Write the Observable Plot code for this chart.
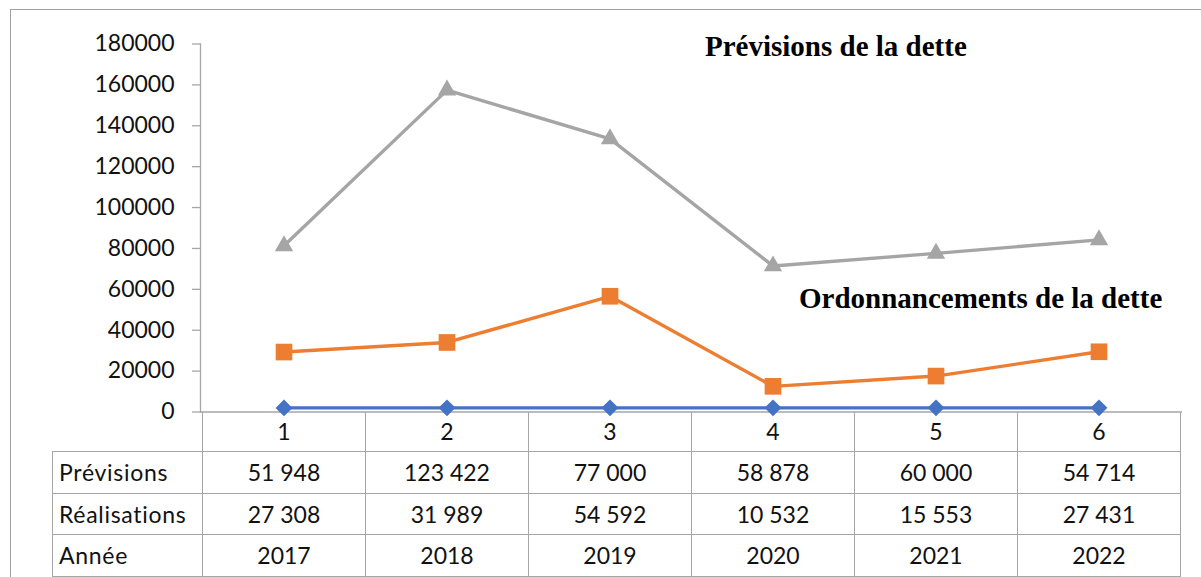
<!DOCTYPE html>
<html><head><meta charset="utf-8">
<script src="https://cdn.jsdelivr.net/npm/d3@7"></script>
<script src="https://cdn.jsdelivr.net/npm/@observablehq/plot@0.6"></script>
<style>
html,body{margin:0;padding:0;background:#fff;}
#wrap{position:relative;width:1201px;height:577px;overflow:hidden;font-family:Lato,"Open Sans",sans-serif;background:#fff;}
#frame{position:absolute;left:10px;top:9px;width:1400px;height:800px;border-left:1.5px solid #a0a0a0;border-top:1.5px solid #a0a0a0;pointer-events:none;}
#chart{position:absolute;left:0;top:0;}
.note{position:absolute;font-family:"Liberation Serif","Times New Roman",serif;font-weight:bold;font-size:29px;line-height:29px;color:#000;white-space:nowrap;}
#tbl{position:absolute;border-collapse:collapse;table-layout:fixed;font-size:23px;color:#111;font-family:Lato,"Open Sans",sans-serif;}
#tbl td{border:1px solid #a6a6a6;padding:0;text-align:center;vertical-align:middle;box-sizing:border-box;}
#tbl td.lab{text-align:left;padding-left:6px;letter-spacing:0.7px;}
#tbl tr.head td{border-top:none;}
#tbl tr.head td.lab{border-left:none;}
</style>
</head><body>
<div id="wrap"><div id="chart"></div><div id="frame"></div></div>
<script>
// ---- data ----
const categories = [1, 2, 3, 4, 5, 6];
const annee = [2017, 2018, 2019, 2020, 2021, 2022];
const realisations = [27308, 31989, 54592, 10532, 15553, 27431];
const previsions = [51948, 123422, 77000, 58878, 60000, 54714];
const tableRows = ["Prévisions", "Réalisations", "Année"];
const stackOrder = ["Année", "Réalisations", "Prévisions"];
const seriesColors = ["#4472C4", "#ED7D31", "#A5A5A5"];
const seriesSymbols = ["diamond2", "square", "triangle"];
const seriesSizes = [7.6, 9.4, 6.8];
const yTicks = [0, 20000, 40000, 60000, 80000, 100000, 120000, 140000, 160000, 180000];
const annotations = ["Prévisions de la dette", "Ordonnancements de la dette"];

const valuesBySeries = {"Année": annee, "Réalisations": realisations, "Prévisions": previsions};
const rows = [];
stackOrder.forEach((s, si) => categories.forEach((c, i) => rows.push({series: s, cat: c, value: valuesBySeries[s][i], size: seriesSizes[si]})));

const W = 1201, H = 577;
const plot = Plot.plot({
  width: W, height: H,
  marginLeft: 200, marginRight: 19, marginTop: 43.5, marginBottom: 165.5,
  style: {fontFamily: "Lato, 'Open Sans', sans-serif", fontSize: "23px", color: "#111", background: "transparent"},
  x: {type: "band", domain: categories, padding: 0},
  y: {domain: [0, 180000]},
  color: {domain: stackOrder, range: seriesColors},
  symbol: {domain: stackOrder, range: seriesSymbols},
  r: {type: "identity"},
  marks: [
    Plot.frame({anchor: "left", stroke: "#a6a6a6", strokeWidth: 1.3}),
    Plot.ruleY([0], {stroke: "#a6a6a6", strokeWidth: 1.3}),
    Plot.axisY({ticks: yTicks, tickSize: 8, tickPadding: 18, tickFormat: d => String(d), stroke: "#a6a6a6", strokeWidth: 1.3, strokeOpacity: 1, fontSize: 23, fill: "#111", label: null}),
    Plot.axisX({tickSize: 0, tickPadding: 12, fontSize: 23, fill: "#111", label: null}),
    Plot.lineY(rows, Plot.stackY2({x: "cat", y: "value", z: "series", stroke: "series", strokeWidth: 3.4, order: null})),
    Plot.dot(rows, Plot.stackY2({x: "cat", y: "value", z: "series", fill: "series", symbol: "series", r: "size", stroke: null, order: null}))
  ]
});
document.getElementById("chart").appendChild(plot);

// annotations (text boxes in the original chart)
const notePos = [[705, 31.5], [799, 283.5]];
annotations.forEach((t, i) => {
  const d = document.createElement("div");
  d.className = "note"; d.textContent = t;
  d.style.left = notePos[i][0] + "px"; d.style.top = notePos[i][1] + "px";
  document.getElementById("wrap").appendChild(d);
});

// data table aligned on the x band scale
const x = plot.scale("x");
const bw = x.bandwidth;
const x0 = x.apply(categories[0]);
const tableLeft = 52;
const fmt = d3.formatLocale({decimal: ",", thousands: "\u00a0", grouping: [3], currency: ["", " €"]}).format(",d");
const tableVals = {"Prévisions": previsions.map(fmt), "Réalisations": realisations.map(fmt), "Année": annee.map(String)};
const tbl = document.createElement("table");
tbl.id = "tbl";
tbl.style.left = tableLeft + "px";
tbl.style.top = (H - 165.5) + "px";
tbl.style.width = (x0 - tableLeft + bw * categories.length) + "px";
const cg = document.createElement("colgroup");
[x0 - tableLeft, ...categories.map(() => bw)].forEach(w => { const c = document.createElement("col"); c.style.width = w + "px"; cg.appendChild(c); });
tbl.appendChild(cg);
const head = document.createElement("tr"); head.className = "head"; head.style.height = "40px";
const hl = document.createElement("td"); hl.className = "lab"; head.appendChild(hl);
categories.forEach(() => head.appendChild(document.createElement("td")));
tbl.appendChild(head);
tableRows.forEach(name => {
  const tr = document.createElement("tr"); tr.style.height = "41.5px";
  const l = document.createElement("td"); l.className = "lab"; l.textContent = name; tr.appendChild(l);
  tableVals[name].forEach(v => { const td = document.createElement("td"); td.textContent = v; tr.appendChild(td); });
  tbl.appendChild(tr);
});
document.getElementById("wrap").appendChild(tbl);
</script>
</body></html>
